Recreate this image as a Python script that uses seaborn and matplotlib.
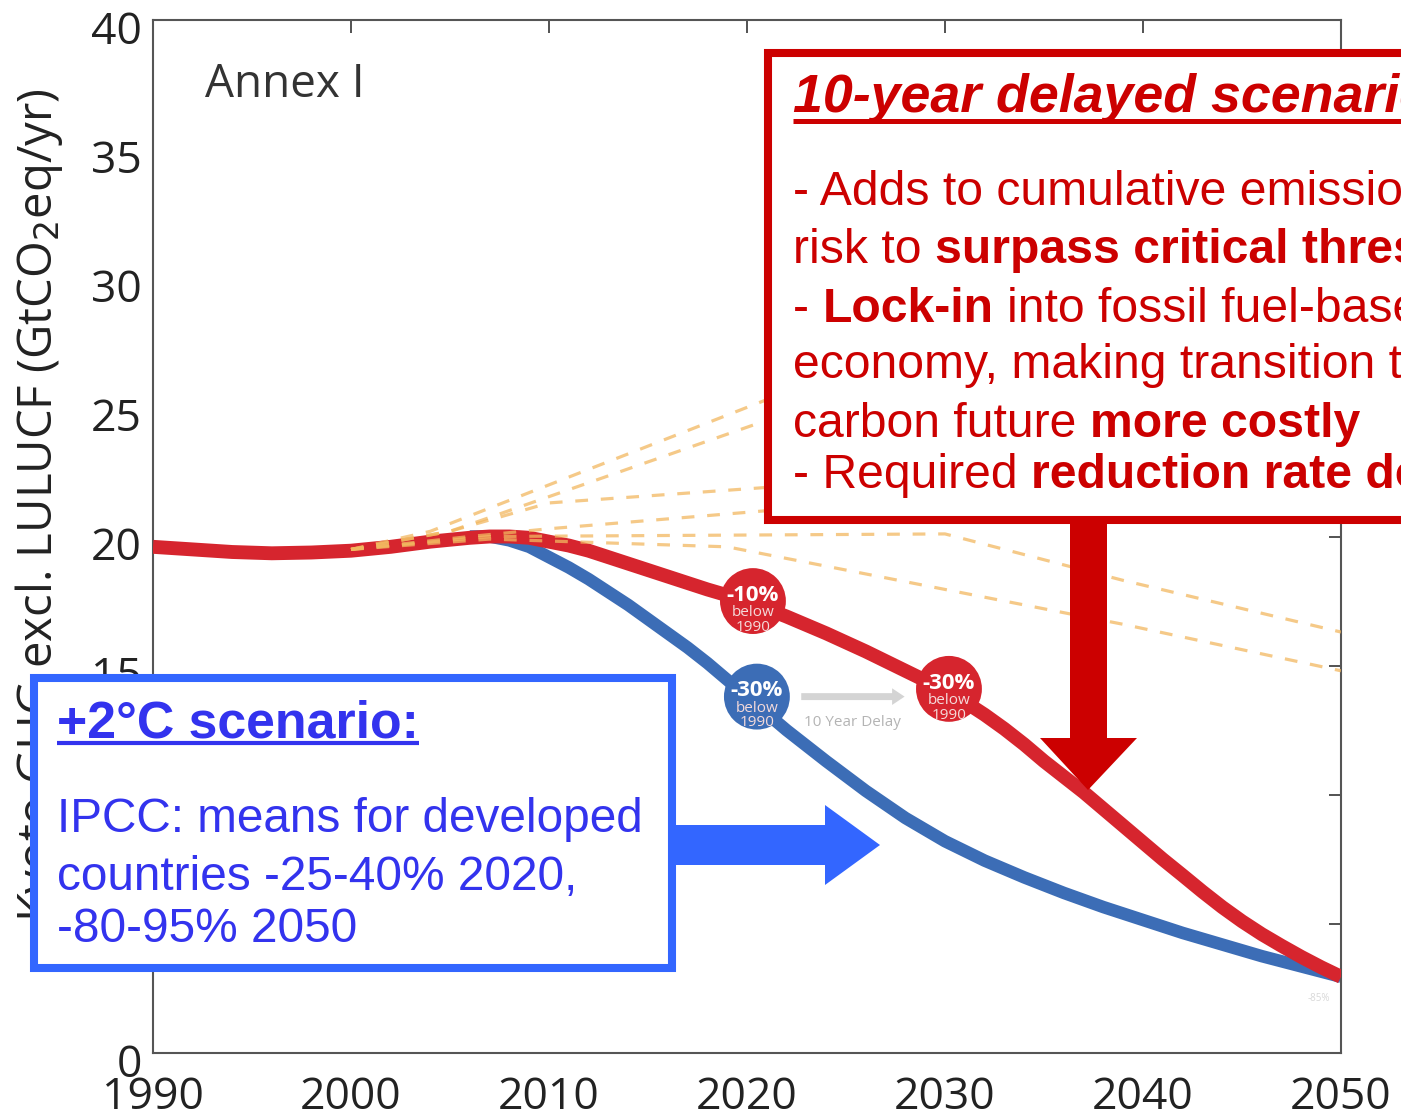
import numpy as np
import pandas as pd
import seaborn as sns
import matplotlib.pyplot as plt
import matplotlib.transforms as mtransforms
from matplotlib.patches import Rectangle, Polygon

# emission pathways (GtCO2eq/yr)
red_years = [1990, 1992, 1994, 1996, 1998, 2000, 2002, 2004, 2006, 2007, 2008, 2009, 2010, 2011,
             2012, 2013, 2014, 2016, 2018, 2020, 2022, 2024, 2026, 2028, 2030, 2031, 2032, 2033,
             2034, 2035, 2036, 2037, 2038, 2039, 2040, 2041, 2042, 2043, 2044, 2045, 2046, 2047,
             2048, 2049, 2050]
red_vals = [19.6, 19.5, 19.4, 19.35, 19.38, 19.45, 19.6, 19.8, 19.95, 20.0, 20.0, 19.95, 19.8, 19.65,
            19.45, 19.2, 18.95, 18.45, 17.95, 17.5, 16.9, 16.25, 15.55, 14.8, 14.05, 13.6, 13.1, 12.55,
            11.95, 11.3, 10.7, 10.1, 9.45, 8.8, 8.15, 7.5, 6.88, 6.25, 5.65, 5.1, 4.6, 4.15,
            3.72, 3.32, 2.95]

blue_years = [2006, 2007, 2008, 2009, 2010, 2011, 2012, 2013, 2014, 2015, 2016, 2017, 2018, 2019,
              2020, 2022, 2024, 2026, 2028, 2030, 2032, 2034, 2036, 2038, 2040, 2042, 2044, 2046,
              2048, 2050]
blue_vals = [20.0, 20.0, 19.85, 19.6, 19.2, 18.8, 18.35, 17.85, 17.35, 16.8, 16.25, 15.7, 15.1, 14.45,
             13.8, 12.5, 11.3, 10.15, 9.1, 8.2, 7.45, 6.8, 6.2, 5.65, 5.15, 4.65, 4.2, 3.75,
             3.35, 2.95]

# baseline / no-action projections (dashed fan)
dash_lines = {
    "a": ([2000, 2004, 2021, 2050], [19.5, 20.2, 25.3, 34.6]),
    "b": ([2000, 2005, 2021, 2050], [19.5, 20.2, 24.5, 32.0]),
    "c": ([2000, 2005, 2010, 2021, 2050], [19.5, 20.2, 21.3, 21.9, 23.5]),
    "d": ([2000, 2006, 2010, 2021, 2050], [19.5, 20.0, 20.3, 21.0, 23.2]),
    "e": ([2000, 2007, 2030, 2039, 2050], [19.5, 20.0, 20.1, 18.3, 16.3]),
    "f": ([2000, 2007, 2019, 2039, 2050], [19.5, 19.9, 19.6, 16.6, 14.8]),
}

# milestone markers
mark_years = [2020.3, 2020.5, 2030.2]
mark_vals = [17.5, 13.8, 14.1]
mark_pct = ["-10%", "-30%", "-30%"]
mark_kind = ["red", "blue", "red"]

RED = "#d6252e"
BLUE = "#3c6db6"
BOXRED = "#cc0000"
BOXBLUE = "#3366ff"
TXTBLUE = "#3333ee"

sns.set_style("white")
plt.rcParams['font.family'] = ['Open Sans', 'DejaVu Sans']

fig = plt.figure(figsize=(14.01, 11.2), dpi=100)
ax = fig.add_axes([153 / 1401, 1 - 1053 / 1120, (1341 - 153) / 1401, (1053 - 20) / 1120])

# dashed fan
for k, (yrs, vals) in dash_lines.items():
    d = pd.DataFrame({"year": yrs, "value": vals})
    sns.lineplot(data=d, x="year", y="value", ax=ax, color="#f2b860", alpha=0.75,
                 lw=2.3, zorder=4).lines[-1].set_dashes([4, 4])

blue_df = pd.DataFrame({"year": blue_years, "value": blue_vals})
red_df = pd.DataFrame({"year": red_years, "value": red_vals})
sns.lineplot(data=blue_df, x="year", y="value", ax=ax, color=BLUE, lw=9, zorder=2)
sns.lineplot(data=red_df, x="year", y="value", ax=ax, color=RED, lw=10, zorder=3)
for ln in ax.lines:
    ln.set_solid_capstyle("butt")
    ln.set_solid_joinstyle("round")

mk = pd.DataFrame({"year": mark_years, "value": mark_vals, "kind": mark_kind})
sns.scatterplot(data=mk, x="year", y="value", hue="kind", palette={"red": RED, "blue": BLUE},
                s=2250, linewidth=0, legend=False, ax=ax, zorder=6)
for x, y, p in zip(mark_years, mark_vals, mark_pct):
    ax.text(x, y + 0.22, p, color="white", fontsize=16, fontweight="bold",
            ha="center", va="center", zorder=7)
    ax.text(x, y - 0.45, "below", color="#f4dada", fontsize=11, ha="center", va="center", zorder=7)
    ax.text(x, y - 1.02, "1990", color="#f4dada", fontsize=11, ha="center", va="center", zorder=7)

ax.annotate("", xy=(2028.1, 13.8), xytext=(2022.6, 13.8),
            arrowprops=dict(arrowstyle="simple,head_width=1.2,head_length=0.9,tail_width=0.5",
                            color="#d4d4d4", lw=0), zorder=5)
ax.text(2025.3, 12.8, "10 Year Delay", color="#b4b4b4", fontsize=11, ha="center", va="center")
ax.text(2048.9, 2.1, "-85%", color="#d8d8d8", fontsize=7, ha="center", va="center")

ax.text(0.044, 0.925, "Annex I", transform=ax.transAxes, fontsize=33, color="#333333",
        ha="left", va="baseline")

ax.set_xlim(1990, 2050)
ax.set_ylim(0, 40)
ax.set_xticks(range(1990, 2051, 10))
ax.set_yticks(range(0, 41, 5))
ax.tick_params(direction="in", length=9, width=1.3, colors="#444444", labelsize=32,
               labelcolor="#222222", top=True, right=True, pad=8)
ax.tick_params(axis="x", pad=16)
# the slide's y labels sit a little below their ticks
shift = mtransforms.ScaledTranslation(0, -7 / 100, fig.dpi_scale_trans)
for lab in ax.get_yticklabels():
    lab.set_transform(lab.get_transform() + shift)
for s in ax.spines.values():
    s.set_color("#555555")
    s.set_linewidth(1.5)
ax.set_xlabel("")
ax.set_ylabel("Kyoto GHG excl. LULUCF (GtCO$_2$eq/yr)", fontsize=34, color="#222222")
ax.yaxis.set_label_coords(-0.074, 0.53)

# overlay in pixel coordinates for the slide call-outs
ov = fig.add_axes([0, 0, 1, 1])
ov.set_xlim(0, 1401)
ov.set_ylim(1120, 0)
ov.axis("off")
ov.patch.set_alpha(0)
ov.set_zorder(10)

# red box + arrow
ov.add_patch(Rectangle((768, 53), 700, 467, facecolor="white", edgecolor=BOXRED, lw=5.8))
ov.add_patch(Polygon([(1070, 524), (1107, 524), (1107, 738), (1137, 738), (1088, 790),
                      (1040, 738), (1070, 738)], closed=True, facecolor=BOXRED, edgecolor="none"))

# blue box + arrow
ov.add_patch(Polygon([(672, 825), (825, 825), (825, 805), (880, 845), (825, 885), (825, 865),
                      (672, 865)], closed=True, facecolor=BOXBLUE, edgecolor="none"))
ov.add_patch(Rectangle((34, 678), 638, 290, facecolor="white", edgecolor=BOXBLUE, lw=5.8))

renderer = fig.canvas.get_renderer()
BOXFONT = ['Liberation Sans', 'DejaVu Sans']


def rich_line(x, y, parts, color, size, style="normal"):
    space = 0.278 * size * 100 / 72
    for i, (s, bold) in enumerate(parts):
        t = ov.text(x, y, s, color=color, fontsize=size, family=BOXFONT, fontstyle=style,
                    fontweight="bold" if bold else "normal", ha="left", va="baseline")
        bb = t.get_window_extent(renderer=renderer)
        x = bb.x1 + space
    return bb.x1


rich_line(793, 112, [("10-year delayed scenario:", True)], BOXRED, 38.7, style="italic")
ov.plot([793, 1450], [121, 121], color=BOXRED, lw=3.6, solid_capstyle="butt")

red_lines = [
    (205, [("- Adds to cumulative emissions, increases", False)]),
    (263, [("risk to", False), ("surpass critical thresholds", True)]),
    (322, [("-", False), ("Lock-in", True), ("into fossil fuel-based", False)]),
    (378, [("economy, making transition to low-", False)]),
    (437, [("carbon future", False), ("more costly", True)]),
    (488, [("- Required", False), ("reduction rate doubles", True)]),
]
for y, parts in red_lines:
    rich_line(793, y, parts, BOXRED, 34.7)

x_end = rich_line(57, 737, [("+2°C scenario:", True)], TXTBLUE, 37.4)
ov.plot([57, x_end], [743, 743], color=TXTBLUE, lw=3, solid_capstyle="butt")
for y, s in [(832, "IPCC: means for developed"), (890, "countries -25-40% 2020,"),
             (942, "-80-95% 2050")]:
    rich_line(57, y, [(s, False)], TXTBLUE, 34.4)

fig.savefig("out.png", dpi=100)
